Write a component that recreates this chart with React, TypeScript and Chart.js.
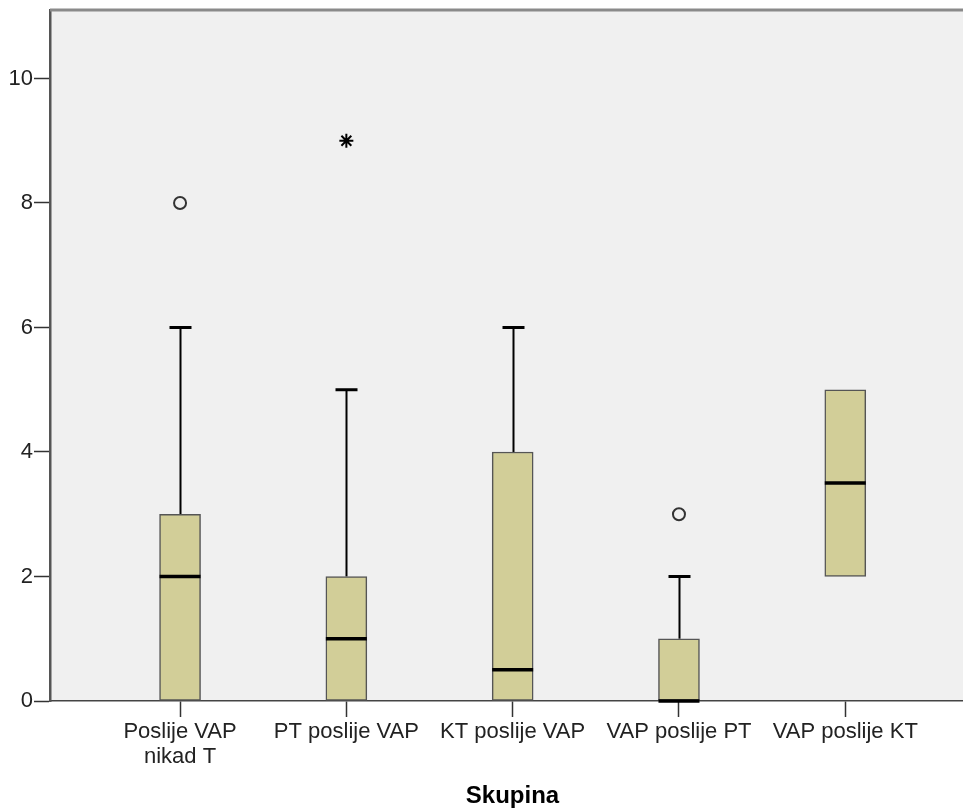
import React, { useEffect, useRef } from "react";
import { Chart, registerables } from "chart.js";

Chart.register(...registerables);

// ---- data ----
const categories: (string | string[])[] = [
  ["Poslije VAP", "nikad T"],
  "PT poslije VAP",
  "KT poslije VAP",
  "VAP poslije PT",
  "VAP poslije KT",
];
const whiskerLow = [0, 0, 0, 0, 2];
const q1 = [0, 0, 0, 0, 2];
const median = [2, 1, 0.5, 0, 3.5];
const q3 = [3, 2, 4, 1, 5];
const whiskerHigh = [6, 5, 6, 2, 5];
const outliersCircle = [
  { x: 0, y: 8 },
  { x: 3, y: 3 },
];
const outliersStar = [{ x: 1, y: 9 }];
const yTicks = [0, 2, 4, 6, 8, 10];
const xTitle = "Skupina";

const FONT = "'Liberation Sans', Arial, Helvetica, sans-serif";

const boxPlugin = {
  id: "boxExtras",
  beforeDraw(chart: any) {
    const { ctx, chartArea } = chart;
    ctx.save();
    ctx.fillStyle = "#f0f0f0";
    ctx.fillRect(chartArea.left, chartArea.top, chartArea.right - chartArea.left, chartArea.bottom - chartArea.top);
    ctx.restore();
  },
  beforeDatasetsDraw(chart: any) {
    const { ctx, scales } = chart;
    const xs = scales.x;
    const ys = scales.y;
    ctx.save();
    ctx.strokeStyle = "#000";
    ctx.lineCap = "butt";
    const capHalf = 11;
    for (let i = 0; i < categories.length; i++) {
      const x = Math.round(xs.getPixelForValue(i)) + 0.5;
      const yLo = ys.getPixelForValue(whiskerLow[i]);
      const yQ1 = ys.getPixelForValue(q1[i]);
      const yQ3 = ys.getPixelForValue(q3[i]);
      const yHi = ys.getPixelForValue(whiskerHigh[i]);
      if (whiskerHigh[i] > q3[i]) {
        ctx.lineWidth = 2;
        ctx.beginPath();
        ctx.moveTo(x, yQ3);
        ctx.lineTo(x, yHi);
        ctx.stroke();
        ctx.lineWidth = 3;
        ctx.beginPath();
        ctx.moveTo(x - capHalf, yHi);
        ctx.lineTo(x + capHalf, yHi);
        ctx.stroke();
      }
      if (whiskerLow[i] < q1[i]) {
        ctx.lineWidth = 2;
        ctx.beginPath();
        ctx.moveTo(x, yQ1);
        ctx.lineTo(x, yLo);
        ctx.stroke();
        ctx.lineWidth = 3;
        ctx.beginPath();
        ctx.moveTo(x - capHalf, yLo);
        ctx.lineTo(x + capHalf, yLo);
        ctx.stroke();
      }
    }
    ctx.restore();
  },
  afterDatasetsDraw(chart: any) {
    const { ctx, scales, chartArea } = chart;
    const xs = scales.x;
    const ys = scales.y;
    ctx.save();
    ctx.strokeStyle = "#000";
    ctx.lineWidth = 3.5;
    const half = 20.5;
    for (let i = 0; i < categories.length; i++) {
      const x = xs.getPixelForValue(i);
      const y = ys.getPixelForValue(median[i]);
      ctx.beginPath();
      ctx.moveTo(x - half, y);
      ctx.lineTo(x + half, y);
      ctx.stroke();
    }
    // top border of plot frame
    ctx.strokeStyle = "#8a8a8a";
    ctx.lineWidth = 3;
    ctx.beginPath();
    ctx.moveTo(chartArea.left, chartArea.top);
    ctx.lineTo(chartArea.right, chartArea.top);
    ctx.stroke();
    ctx.restore();
  },
};

export default function App() {
  const ref = useRef<HTMLCanvasElement | null>(null);
  useEffect(() => {
    if (!ref.current) return;
    const chart = new Chart(ref.current, {
      type: "bar",
      data: {
        datasets: [
          {
            type: "bar",
            data: categories.map((_, i) => ({ x: i, y: [q1[i], q3[i]] })) as any,
            backgroundColor: "#d2ce98",
            borderColor: "#555",
            borderWidth: 1.5,
            borderSkipped: false,
            barThickness: 41,
            order: 2,
          } as any,
          {
            type: "scatter",
            data: outliersCircle,
            pointStyle: "circle",
            pointRadius: 6,
            pointBorderWidth: 2,
            pointBackgroundColor: "rgba(0,0,0,0)",
            pointBorderColor: "#333",
            order: 1,
          } as any,
          {
            type: "scatter",
            data: outliersStar,
            pointStyle: "star",
            pointRadius: 7,
            pointBorderWidth: 2,
            pointBorderColor: "#000",
            pointBackgroundColor: "#000",
            order: 1,
          } as any,
        ],
      },
      options: {
        animation: false,
        responsive: false,
        devicePixelRatio: 1,
        layout: { autoPadding: false, padding: { top: 10, right: 0, bottom: 0, left: 0 } },
        plugins: { legend: { display: false }, tooltip: { enabled: false } },
        events: [],
        scales: {
          x: {
            type: "linear",
            min: -0.782,
            max: 4.78,
            offset: false,
            afterBuildTicks: (axis: any) => {
              axis.ticks = categories.map((_, i) => ({ value: i }));
            },
            afterFit: (axis: any) => {
              axis.height = 111;
              axis.paddingLeft = 0;
              axis.paddingRight = 0;
            },
            grid: {
              offset: false,
              drawOnChartArea: false,
              drawTicks: true,
              tickLength: 16,
              tickColor: "#333",
              tickWidth: 1.5,
            },
            border: { color: "#444", width: 1.5 },
            ticks: {
              autoSkip: false,
              maxRotation: 0,
              minRotation: 0,
              padding: 2,
              color: "#222",
              font: { family: FONT, size: 22, lineHeight: 1.14 },
              callback: (v: any) => categories[Math.round(Number(v))] as any,
            },
            title: {
              display: true,
              text: xTitle,
              color: "#000",
              font: { family: FONT, size: 24, weight: "bold", lineHeight: 1.2 },
              padding: { top: 0, bottom: 1 },
            },
          },
          y: {
            type: "linear",
            min: 0,
            max: 11.1,
            afterBuildTicks: (axis: any) => {
              axis.ticks = yTicks.map((v) => ({ value: v }));
            },
            afterFit: (axis: any) => {
              axis.width = 50;
              axis.paddingTop = 0;
              axis.paddingBottom = 0;
            },
            grid: {
              drawOnChartArea: false,
              drawTicks: true,
              tickLength: 16,
              tickColor: "#333",
              tickWidth: 1.5,
            },
            border: { color: "#555", width: 2.5 },
            ticks: {
              padding: 1,
              color: "#222",
              font: { family: FONT, size: 22 },
            },
          },
        },
      } as any,
      plugins: [boxPlugin],
    });
    return () => chart.destroy();
  }, []);
  return (
    <div
      style={{
        position: "absolute",
        left: 0,
        top: 0,
        width: 963,
        height: 812,
        overflow: "hidden",
        background: "#fff",
      }}
    >
      <canvas ref={ref} width={975} height={812} style={{ width: 975, height: 812, display: "block" }} />
    </div>
  );
}
